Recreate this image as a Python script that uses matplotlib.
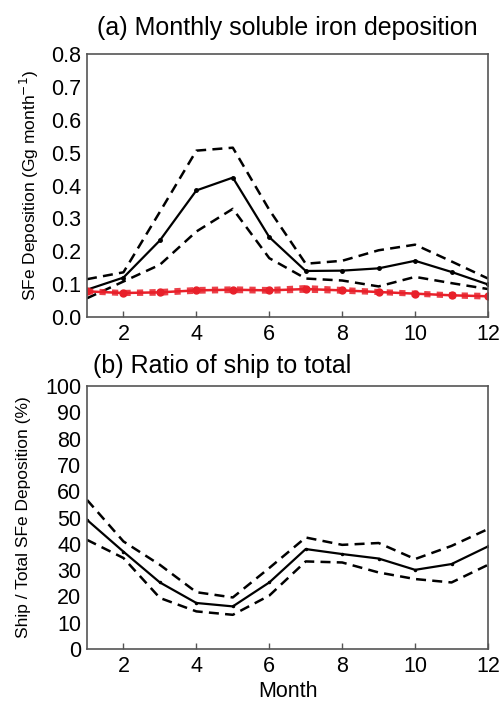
import matplotlib
matplotlib.use("Agg")
import matplotlib.pyplot as plt
import numpy as np

plt.rcParams['font.family'] = ['Liberation Sans', 'DejaVu Sans']

months = np.arange(1, 13)

# Panel (a): total soluble iron deposition (Gg/month)
total_mean = [0.083, 0.120, 0.233, 0.385, 0.424, 0.243, 0.140, 0.141, 0.148, 0.171, 0.137, 0.099]
total_upper = [0.115, 0.136, 0.320, 0.506, 0.515, 0.326, 0.162, 0.171, 0.203, 0.220, 0.169, 0.117]
total_lower = [0.057, 0.108, 0.159, 0.260, 0.329, 0.179, 0.117, 0.111, 0.093, 0.122, 0.103, 0.085]

# Ship-derived soluble iron deposition
ship_mean = [0.078, 0.073, 0.075, 0.081, 0.083, 0.081, 0.085, 0.081, 0.076, 0.071, 0.066, 0.063]
ship_upper = [0.081, 0.076, 0.079, 0.085, 0.087, 0.085, 0.091, 0.085, 0.079, 0.074, 0.069, 0.067]
ship_lower = [0.075, 0.070, 0.071, 0.077, 0.079, 0.077, 0.080, 0.077, 0.073, 0.068, 0.063, 0.059]

# Panel (b): ratio of ship to total (%)
ratio_mean = [49.1, 37.0, 25.3, 17.5, 16.2, 25.3, 38.0, 36.1, 34.4, 30.1, 32.3, 39.0]
ratio_upper = [56.7, 40.9, 32.0, 21.6, 19.6, 30.8, 42.4, 39.6, 40.3, 34.2, 39.2, 45.6]
ratio_lower = [41.5, 34.6, 19.4, 14.3, 13.0, 20.3, 33.3, 32.9, 29.1, 26.6, 25.3, 32.0]

W, H = 501, 703
fig = plt.figure(figsize=(W / 100, H / 100), dpi=100)

def px_axes(l, t, r, b):
    return fig.add_axes([l / W, 1 - b / H, (r - l) / W, (b - t) / H])

ax1 = px_axes(87, 54, 488, 317)
ax2 = px_axes(87, 386, 488, 649)

red = '#e8202a'
for ax in (ax1, ax2):
    for s in ax.spines.values():
        s.set_color('#555555')
        s.set_linewidth(1.2)
    ax.set_xlim(1, 12)
    ax.set_xticks([2, 4, 6, 8, 10, 12])
    ax.tick_params(axis='x', direction='in', length=4, width=1, colors='#555555',
                   labelcolor='black', labelsize=15.5, pad=5)
    ax.tick_params(axis='y', length=0, labelsize=15.5, pad=4)

# Panel (a)
ax1.plot(months, total_upper, color='black', ls=(0, (4, 2.5)), lw=1.8)
ax1.plot(months, total_lower, color='black', ls=(0, (4, 2.5)), lw=1.8)
ax1.plot(months, total_mean, color='black', lw=1.6, marker='o', ms=2.5)
ax1.plot(months, ship_upper, color=red, ls=(0, (1.5, 1.5)), lw=3, alpha=0.85)
ax1.plot(months, ship_lower, color=red, ls=(0, (1.5, 1.5)), lw=3, alpha=0.85)
ax1.plot(months, ship_mean, color=red, lw=1.8, marker='o', ms=5)
ax1.set_ylim(0, 0.8)
ax1.set_yticks(np.arange(0, 0.81, 0.1))
ax1.set_yticklabels([f'{v:.1f}' for v in np.arange(0, 0.81, 0.1)])
ax1.set_ylabel('SFe Deposition (Gg month$^{-1}$)', fontsize=12.5, labelpad=7)
ax1.set_title('(a) Monthly soluble iron deposition', fontsize=18, pad=14, x=0.5)

# Panel (b)
ax2.plot(months, ratio_upper, color='black', ls=(0, (4, 2.5)), lw=1.8)
ax2.plot(months, ratio_lower, color='black', ls=(0, (4, 2.5)), lw=1.8)
ax2.plot(months, ratio_mean, color='black', lw=1.6, marker='o', ms=1.5)
ax2.set_ylabel('Ship / Total SFe Deposition (%)', fontsize=12.5, labelpad=10)
ax2.set_ylim(0, 100)
ax2.set_yticks(np.arange(0, 101, 10))
ax2.set_title('(b) Ratio of ship to total', fontsize=18, loc='left', pad=9, x=0.015)
ax2.set_xlabel('Month', fontsize=15.5, labelpad=3)

fig.savefig('out.png', dpi=100)
